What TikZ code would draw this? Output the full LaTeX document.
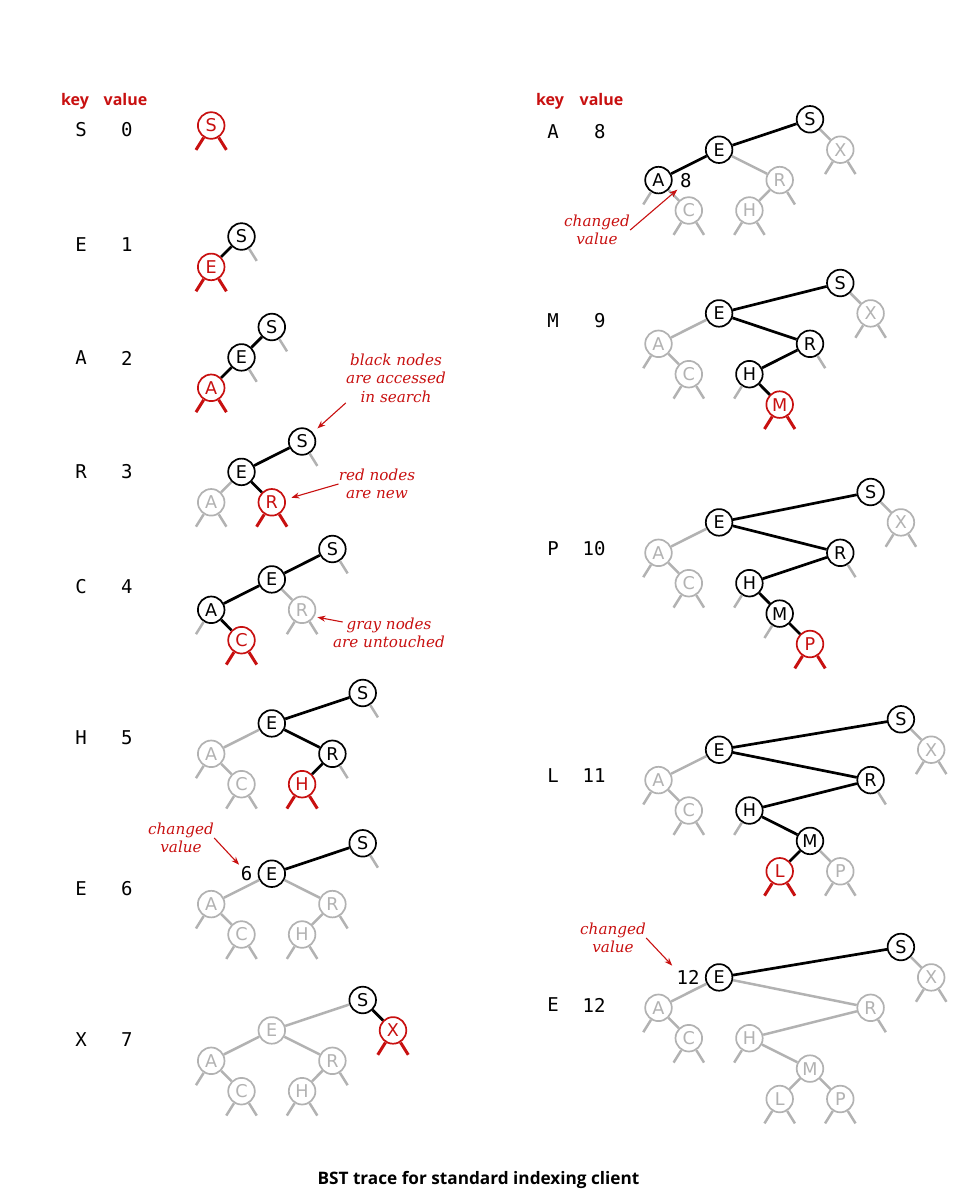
\documentclass[tikz,border=0pt]{standalone}
\usepackage{fontspec}
\setmainfont{DejaVu Sans}
\newfontfamily\keyfont{DejaVu Sans Mono}
\newfontfamily\headfont{Open Sans}
\newfontfamily\remarkfont{DejaVu Serif}
\usepackage{tikz}
\usetikzlibrary{arrows.meta,positioning}
\usepackage{xcolor}
\definecolor{bstred}{RGB}{200,16,16}
\definecolor{bstgray}{RGB}{178,178,178}

\begin{document}
\begin{tikzpicture}[
            x=0.5pt, y=-0.5pt,
            treenode/.style={circle, minimum size=13.3pt, inner sep=0pt, line width=0.85pt, fill=white, font=\fontsize{8.8}{10}\selectfont},
            blknode/.style={treenode, draw=black},
            graynode/.style={treenode, draw=bstgray, text=bstgray},
            graystub/.style={draw=bstgray, line width=1.25pt},
            redstub/.style={draw=bstred, line width=1.5pt},
            newnode/.style={treenode, draw=bstred, text=bstred, append after command={(\tikzlastnode.238) edge[redstub] ++(238:7.3pt) (\tikzlastnode.302) edge[redstub] ++(302:7.3pt)}},
            leftnull/.style={append after command={(\tikzlastnode.238) edge[graystub] ++(238:7.3pt)}},
            rightnull/.style={append after command={(\tikzlastnode.302) edge[graystub] ++(302:7.3pt)}},
            bothnull/.style={leftnull, rightnull},
            hot/.style={draw=black, line width=1.35pt},
            cold/.style={draw=bstgray, line width=1.25pt},
            keytext/.style={inner sep=0pt, font=\keyfont\fontsize{9.5}{11}\selectfont},
            valtext/.style={keytext, anchor=east},
            head/.style={inner sep=0pt, anchor=base, text=bstred, font=\headfont\bfseries\fontsize{8}{10}\selectfont},
            remark/.style={inner sep=0pt, align=center, text=bstred, font=\remarkfont\itshape\fontsize{7.6}{9.3}\selectfont},
            remarkarrow/.style={-{Stealth[length=4pt,width=3pt]}, draw=bstred, line width=0.55pt}
        ]
            \useasboundingbox (0,0) rectangle (957,1200);

            % --- HEADERS ---
            \node[head] (keyHeadL) at (75,105) {key};
            \node[head] (valHeadL) at (125.5,105) {value};
            \node[head] (keyHeadR) at (550,105) {key};
            \node[head] (valHeadR) at (601.5,105) {value};

            % --- LEFT COLUMN ---
            % S 0
            \node[keytext] (key0) at (81,130) {S};
            \node[valtext] (val0) at (133,130) {0};
            \begin{scope}[shift={(211.2,125.5)}, x=15.15pt, y=-15.2pt]
                \node[newnode] (s0) at (0,0) {S};
            \end{scope}

            % E 1
            \node[keytext] (key1) at (81,245) {E};
            \node[valtext] (val1) at (133,245) {1};
            \begin{scope}[shift={(211.2,236.5)}, x=15.15pt, y=-15.2pt]
                \node[blknode, rightnull] (s1) at (1,0) {S};
                \node[newnode] (e1) at (0,1) {E};
                \draw[hot] (s1) -- (e1);
            \end{scope}

            % A 2
            \node[keytext] (key2) at (81,358) {A};
            \node[valtext] (val2) at (133,358) {2};
            \begin{scope}[shift={(211.2,327)}, x=15.15pt, y=-15.2pt]
                \node[blknode, rightnull] (s2) at (2,0) {S};
                \node[blknode, rightnull] (e2) at (1,1) {E};
                \node[newnode] (a2) at (0,2) {A};
                \draw[hot] (s2) -- (e2) -- (a2);
            \end{scope}

            % R 3
            \node[keytext] (key3) at (81,472) {R};
            \node[valtext] (val3) at (133,472) {3};
            \begin{scope}[shift={(211.2,441.5)}, x=15.15pt, y=-15.2pt]
                \node[blknode, rightnull] (s3) at (3,0) {S};
                \node[blknode] (e3) at (1,1) {E};
                \node[graynode, bothnull] (a3) at (0,2) {A};
                \node[newnode] (r3) at (2,2) {R};
                \draw[hot] (s3) -- (e3) -- (r3);
                \draw[cold] (e3) -- (a3);
            \end{scope}

            % C 4
            \node[keytext] (key4) at (81,587) {C};
            \node[valtext] (val4) at (133,587) {4};
            \begin{scope}[shift={(211.2,549)}, x=15.15pt, y=-15.2pt]
                \node[blknode, rightnull] (s4) at (4,0) {S};
                \node[blknode] (e4) at (2,1) {E};
                \node[blknode, leftnull] (a4) at (0,2) {A};
                \node[graynode, bothnull] (r4) at (3,2) {R};
                \node[newnode] (c4) at (1,3) {C};
                \draw[hot] (s4) -- (e4) -- (a4) -- (c4);
                \draw[cold] (e4) -- (r4);
            \end{scope}

            % H 5
            \node[keytext] (key5) at (81,738) {H};
            \node[valtext] (val5) at (133,738) {5};
            \begin{scope}[shift={(211.2,693)}, x=15.15pt, y=-15.2pt]
                \node[blknode, rightnull] (s5) at (5,0) {S};
                \node[blknode] (e5) at (2,1) {E};
                \node[graynode, leftnull] (a5) at (0,2) {A};
                \node[blknode, rightnull] (r5) at (4,2) {R};
                \node[graynode, bothnull] (c5) at (1,3) {C};
                \node[newnode] (h5) at (3,3) {H};
                \draw[hot] (s5) -- (e5) -- (r5) -- (h5);
                \draw[cold] (e5) -- (a5) -- (c5);
            \end{scope}

            % E 6
            \node[keytext] (key6) at (81,889) {E};
            \node[valtext] (val6) at (133,889) {6};
            \begin{scope}[shift={(211.2,843.3)}, x=15.15pt, y=-15.2pt]
                \node[blknode, rightnull] (s6) at (5,0) {S};
                \node[blknode] (e6) at (2,1) {E};
                \node[graynode, leftnull] (a6) at (0,2) {A};
                \node[graynode, rightnull] (r6) at (4,2) {R};
                \node[graynode, bothnull] (c6) at (1,3) {C};
                \node[graynode, bothnull] (h6) at (3,3) {H};
                \node[keytext, left=2.5pt of e6] (six) {6};
                \draw[hot] (s6) -- (e6);
                \draw[cold] (e6) -- (a6) -- (c6);
                \draw[cold] (e6) -- (r6) -- (h6);
            \end{scope}
            \node[remark] (chgSix) at (181,838) {changed\\value};
            \draw[remarkarrow, shorten >=1pt] (chgSix.east) -- (six.north west);

            % X 7
            \node[keytext] (key7) at (81,1040) {X};
            \node[valtext] (val7) at (133,1040) {7};
            \begin{scope}[shift={(211.2,1000)}, x=15.15pt, y=-15.2pt]
                \node[blknode] (s7) at (5,0) {S};
                \node[graynode] (e7) at (2,1) {E};
                \node[newnode] (x7) at (6,1) {X};
                \node[graynode, leftnull] (a7) at (0,2) {A};
                \node[graynode, rightnull] (r7) at (4,2) {R};
                \node[graynode, bothnull] (c7) at (1,3) {C};
                \node[graynode, bothnull] (h7) at (3,3) {H};
                \draw[hot] (s7) -- (x7);
                \draw[cold] (s7) -- (e7) -- (a7) -- (c7);
                \draw[cold] (e7) -- (r7) -- (h7);
            \end{scope}

            % --- REMARKS ---
            \node[remark] (blackNote) at (396,378) {black nodes\\are accessed\\in search};
            \draw[remarkarrow, shorten >=3pt] (blackNote.south west) -- (s3.40);
            \node[remark] (redNote) at (377,484) {red nodes\\are new};
            \draw[remarkarrow, shorten >=3pt] (redNote.west) -- (r3.12);
            \node[remark] (grayNote) at (389,633) {gray nodes\\are untouched};
            \draw[remarkarrow, shorten >=1.5pt] ([shift={(5pt,5.5pt)}]grayNote.west) -- (r4.-29);

            % --- RIGHT COLUMN ---
            % A 8
            \node[keytext] (key8) at (553,131.7) {A};
            \node[valtext] (val8) at (606,131.7) {8};
            \begin{scope}[shift={(658.5,119.3)}, x=15.15pt, y=-15.2pt]
                \node[blknode] (s8) at (5,0) {S};
                \node[blknode] (e8) at (2,1) {E};
                \node[graynode, bothnull] (x8) at (6,1) {X};
                \node[blknode, leftnull] (a8) at (0,2) {A};
                \node[graynode, rightnull] (r8) at (4,2) {R};
                \node[graynode, bothnull] (c8) at (1,3) {C};
                \node[graynode, bothnull] (h8) at (3,3) {H};
                \node[keytext, right=3.5pt of a8] (eight) {8};
                \draw[hot] (s8) -- (e8) -- (a8);
                \draw[cold] (s8) -- (x8);
                \draw[cold] (e8) -- (r8) -- (h8);
                \draw[cold] (a8) -- (c8);
            \end{scope}
            \node[remark] (chgEight) at (597,230) {changed\\value};
            \draw[remarkarrow, shorten >=1.5pt] (chgEight.east) -- (eight.south west);

            % M 9
            \node[keytext] (key9) at (553,321) {M};
            \node[valtext] (val9) at (606,321) {9};
            \begin{scope}[shift={(658.5,283)}, x=15.15pt, y=-15.2pt]
                \node[blknode] (s9) at (6,0) {S};
                \node[blknode] (e9) at (2,1) {E};
                \node[graynode, bothnull] (x9) at (7,1) {X};
                \node[graynode, leftnull] (a9) at (0,2) {A};
                \node[blknode, rightnull] (r9) at (5,2) {R};
                \node[graynode, bothnull] (c9) at (1,3) {C};
                \node[blknode, leftnull] (h9) at (3,3) {H};
                \node[newnode] (m9) at (4,4) {M};
                \draw[hot] (s9) -- (e9) -- (r9) -- (h9) -- (m9);
                \draw[cold] (s9) -- (x9);
                \draw[cold] (e9) -- (a9) -- (c9);
            \end{scope}

            % P 10
            \node[keytext] (key10) at (553,549) {P};
            \node[valtext] (val10) at (606,549) {10};
            \begin{scope}[shift={(658.5,492)}, x=15.15pt, y=-15.2pt]
                \node[blknode] (s10) at (7,0) {S};
                \node[blknode] (e10) at (2,1) {E};
                \node[graynode, bothnull] (x10) at (8,1) {X};
                \node[graynode, leftnull] (a10) at (0,2) {A};
                \node[blknode, rightnull] (r10) at (6,2) {R};
                \node[graynode, bothnull] (c10) at (1,3) {C};
                \node[blknode, leftnull] (h10) at (3,3) {H};
                \node[blknode, leftnull] (m10) at (4,4) {M};
                \node[newnode] (p10) at (5,5) {P};
                \draw[hot] (s10) -- (e10) -- (r10) -- (h10) -- (m10) -- (p10);
                \draw[cold] (s10) -- (x10);
                \draw[cold] (e10) -- (a10) -- (c10);
            \end{scope}

            % L 11
            \node[keytext] (key11) at (553,776) {L};
            \node[valtext] (val11) at (606,776) {11};
            \begin{scope}[shift={(658.5,719.3)}, x=15.15pt, y=-15.2pt]
                \node[blknode] (s11) at (8,0) {S};
                \node[blknode] (e11) at (2,1) {E};
                \node[graynode, bothnull] (x11) at (9,1) {X};
                \node[graynode, leftnull] (a11) at (0,2) {A};
                \node[blknode, rightnull] (r11) at (7,2) {R};
                \node[graynode, bothnull] (c11) at (1,3) {C};
                \node[blknode, leftnull] (h11) at (3,3) {H};
                \node[blknode] (m11) at (5,4) {M};
                \node[newnode] (l11) at (4,5) {L};
                \node[graynode, bothnull] (p11) at (6,5) {P};
                \draw[hot] (s11) -- (e11) -- (r11) -- (h11) -- (m11) -- (l11);
                \draw[cold] (s11) -- (x11);
                \draw[cold] (e11) -- (a11) -- (c11);
                \draw[cold] (m11) -- (p11);
            \end{scope}

            % E 12
            \node[keytext] (key12) at (553,1005) {E};
            \node[valtext] (val12) at (606,1005) {12};
            \begin{scope}[shift={(658.5,947)}, x=15.15pt, y=-15.2pt]
                \node[blknode] (s12) at (8,0) {S};
                \node[blknode] (e12) at (2,1) {E};
                \node[graynode, bothnull] (x12) at (9,1) {X};
                \node[graynode, leftnull] (a12) at (0,2) {A};
                \node[graynode, rightnull] (r12) at (7,2) {R};
                \node[graynode, bothnull] (c12) at (1,3) {C};
                \node[graynode, leftnull] (h12) at (3,3) {H};
                \node[graynode] (m12) at (5,4) {M};
                \node[graynode, bothnull] (l12) at (4,5) {L};
                \node[graynode, bothnull] (p12) at (6,5) {P};
                \node[keytext, left=2.5pt of e12] (twelve) {12};
                \draw[hot] (s12) -- (e12);
                \draw[cold] (s12) -- (x12);
                \draw[cold] (e12) -- (a12) -- (c12);
                \draw[cold] (e12) -- (r12) -- (h12) -- (m12) -- (l12);
                \draw[cold] (m12) -- (p12);
            \end{scope}
            \node[remark] (chgTwelve) at (613,938) {changed\\value};
            \draw[remarkarrow, shorten >=3pt] (chgTwelve.east) -- (twelve.north west);

            % --- CAPTION ---
            \node[font=\headfont\bfseries\fontsize{8.6}{10}\selectfont] (caption) at (478.5,1180) {BST trace for standard indexing client};
        \end{tikzpicture}
\end{document}
